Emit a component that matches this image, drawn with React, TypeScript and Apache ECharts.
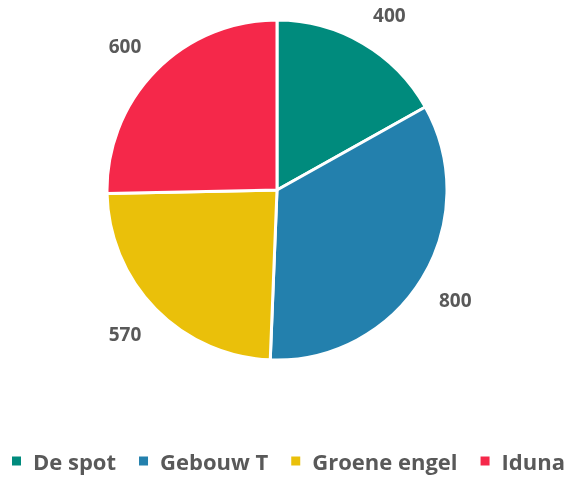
import React, { useEffect, useRef } from "react";
import * as echarts from "echarts";

const categories = ["De spot", "Gebouw T", "Groene engel", "Iduna"];
const values = [400, 800, 570, 600];
const colors = ["#008B7D", "#2380AD", "#EAC00A", "#F5284A"];

const CX = 277;
const CY = 190;
const R = 170;
const LABEL_GAP = 20;

export default function App() {
  const ref = useRef<HTMLDivElement>(null);
  useEffect(() => {
    const chart = echarts.init(ref.current!, null, { renderer: "svg" });
    chart.setOption({
      animation: false,
      color: colors,
      legend: {
        bottom: 2,
        left: 9,
        padding: [5, 1],
        icon: "rect",
        itemWidth: 11,
        itemHeight: 11,
        itemGap: 21,
        data: categories,
        textStyle: { fontSize: 22, fontWeight: "bold", color: "#595959", fontFamily: "Open Sans", padding: [0, 0, 0, 6] },
      },
      series: [
        {
          type: "pie",
          center: [CX, CY],
          radius: R,
          startAngle: 90,
          clockwise: true,
          itemStyle: { borderColor: "#fff", borderWidth: 3 },
          label: {
            show: true,
            position: "outside",
            formatter: "{c}",
            fontSize: 19,
            fontWeight: "bold",
            color: "#595959",
            fontFamily: "Open Sans",
          },
          labelLine: { show: false, length: 28, length2: 0 },
          labelLayout: (params: any) => {
            const pts = params.labelLinePoints;
            if (!pts || !pts[0]) return {};
            const dx = pts[0][0] - CX;
            const dy = pts[0][1] - CY;
            const d = Math.sqrt(dx * dx + dy * dy) || 1;
            const lr = params.labelRect || { width: 35, height: 26 };
            const hw = lr.width / 2;
            const hh = 11;
            const r = R + LABEL_GAP;
            return {
              x: CX + (dx / d) * r + Math.sign(dx) * hw,
              y: CY + (dy / d) * r + Math.sign(dy) * hh,
              align: "center",
              verticalAlign: "middle",
            };
          },
          data: categories.map((c, i) => ({ name: c, value: values[i] })),
        },
      ],
    });
    return () => chart.dispose();
  }, []);
  return <div ref={ref} style={{ position: "fixed", left: 0, top: 0, width: 566, height: 479 }} />;
}
